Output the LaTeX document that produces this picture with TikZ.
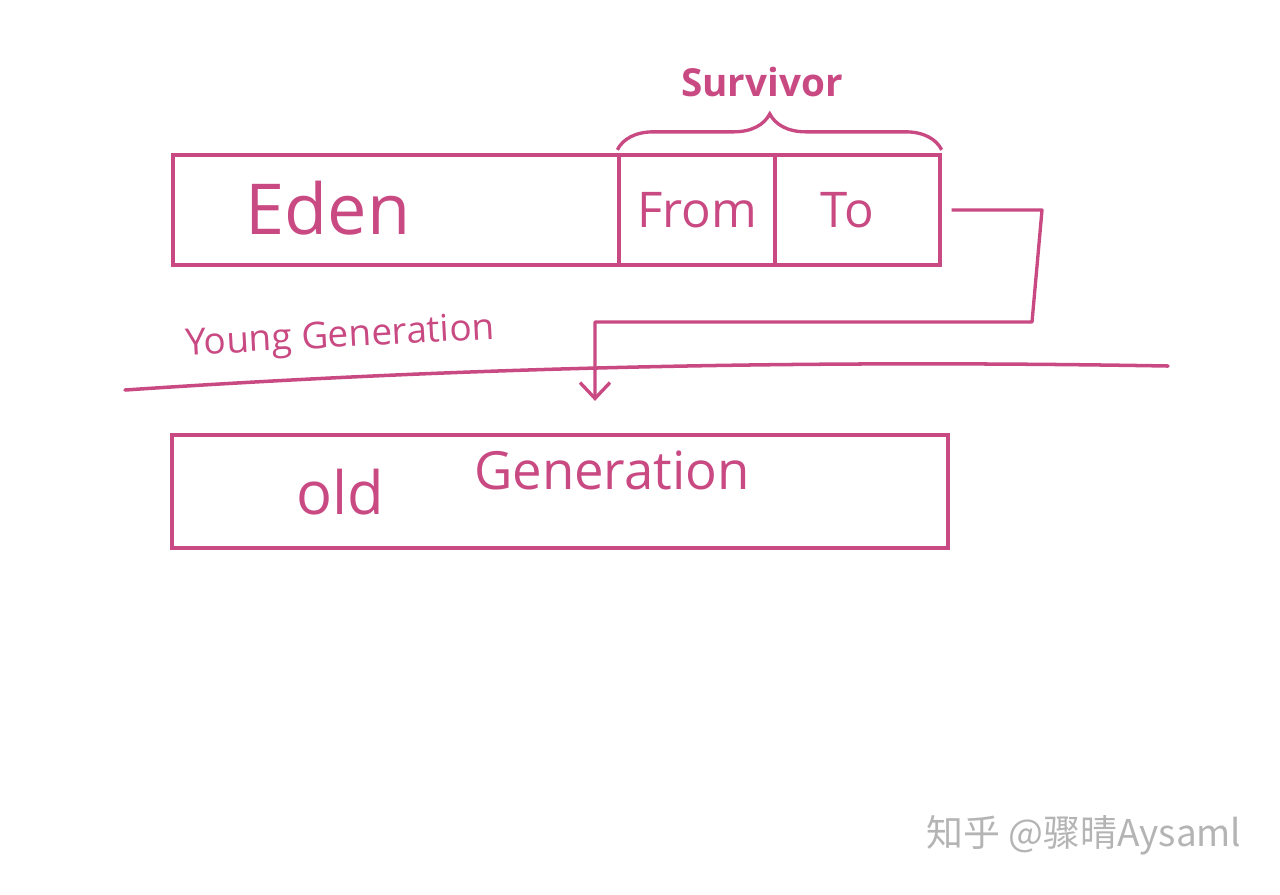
\documentclass[tikz,border=0pt]{standalone}
\usepackage{fontspec}
\setmainfont{Open Sans}
\newfontfamily\cjkfont{Noto Sans CJK SC}
\usepackage{tikz}
\usetikzlibrary{arrows.meta,decorations.pathreplacing}
\definecolor{penpink}{HTML}{C94A82}
\definecolor{markgrey}{HTML}{B4B4B4}

\begin{document}
\begin{tikzpicture}[
  x=0.02cm,y=-0.02cm,
  font=\fontsize{26}{30}\selectfont,
  penbox/.style={rectangle,draw=penpink,line width=1.9pt,inner sep=0pt,text=penpink},
  penlabel/.style={text=penpink,inner sep=1pt},
  flow/.style={-{Straight Barb[length=9pt,width=17pt,line width=1.9pt]},line width=1.9pt,draw=penpink,line join=round},
  splitline/.style={line width=2pt,draw=penpink,line cap=round},
  survbrace/.style={decorate,decoration={brace,amplitude=0.72cm,aspect=0.47,raise=2pt},line width=1.9pt,draw=penpink},
  watermark/.style={font=\cjkfont\fontsize{21}{24}\selectfont,text=markgrey},
]
\useasboundingbox (0,0) rectangle (1280,894);

% Young generation boxes
\node[penbox,minimum width=8.92cm,minimum height=2.2cm] (eden) at (396,210) {};
\node[penbox,minimum width=3.12cm,minimum height=2.2cm] (from) at (697,210) {\fontsize{28}{30}\selectfont From};
\node[penbox,minimum width=3.3cm,minimum height=2.2cm]  (to)   at (857.5,210) {\fontsize{28}{30}\selectfont\hspace{-0.4cm}To};
\node[penlabel,font=\fontsize{40}{44}\selectfont] (edenlbl) at (328,208) {Eden};

% Survivor brace
\draw[survbrace] (from.north west) -- (to.north east);
\node[penlabel,font=\bfseries\fontsize{22}{26}\selectfont] (survlbl) at (762,82) {Survivor};

% Generation divider
\coordinate (divl) at (125,390);
\coordinate (divr) at (1168,366);
\draw[splitline] (divl) .. controls (480,366) and (820,360) .. (divr);
\node[penlabel,font=\fontsize{21}{24}\selectfont,rotate=3] (younglbl) at (340,338) {Young Generation};

% Old generation box
\node[penbox,minimum width=15.52cm,minimum height=2.26cm] (old) at (560,491.5) {};
\node[penlabel,font=\fontsize{34}{38}\selectfont] (oldlbl) at (340,492) {old};
\node[penlabel,font=\fontsize{30}{34}\selectfont] (genlbl) at (612,470) {Generation};

% Promotion arrow
\coordinate (bendA) at (1042,210);
\coordinate (bendB) at (1032,322);
\coordinate (bendC) at (595,322);
\draw[flow,shorten <=0.2cm,shorten >=0.65cm] (to.east) -- (bendA) -- (bendB) -- (bendC) -- (old.north -| bendC);

% Watermark
\node[watermark] (mark) at (1084,835) {知乎 @骤晴Aysaml};
\end{tikzpicture}
\end{document}
